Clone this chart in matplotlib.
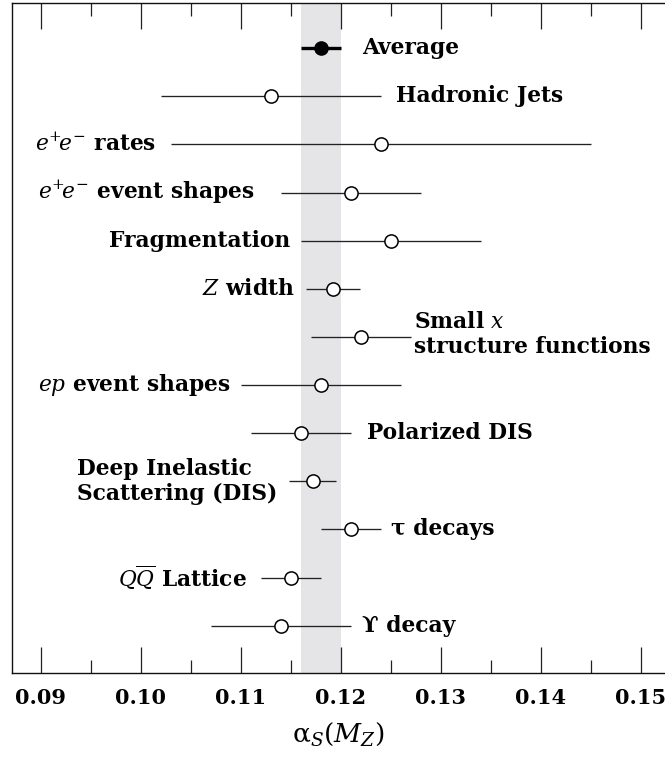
import matplotlib
matplotlib.use("Agg")
import matplotlib.pyplot as plt
from matplotlib.ticker import FixedLocator

plt.rcParams['font.family'] = ['DejaVu Serif', 'DejaVu Sans']
plt.rcParams['mathtext.fontset'] = 'dejavuserif'

# ---- data (top to bottom) ----
labels = [
    "Average",
    "Hadronic Jets",
    r"$e^{+}\!e^{-}$ rates",
    r"$e^{+}\!e^{-}$ event shapes",
    "Fragmentation",
    r"$Z$ width",
    "Small $x$\nstructure functions",
    r"$ep$ event shapes",
    "Polarized DIS",
    "Deep Inelastic\nScattering (DIS)",
    "τ decays",
    r"$Q\overline{Q}$ Lattice",
    "ϒ decay",
]
values = [0.118, 0.113, 0.124, 0.121, 0.125, 0.1192, 0.122, 0.118, 0.116, 0.1172, 0.121, 0.115, 0.114]
err_lo = [0.002, 0.011, 0.021, 0.007, 0.009, 0.0027, 0.005, 0.008, 0.005, 0.0024, 0.003, 0.003, 0.007]
err_hi = [0.002, 0.011, 0.021, 0.007, 0.009, 0.0027, 0.005, 0.008, 0.005, 0.0023, 0.003, 0.003, 0.007]
label_side = ["right", "right", "left", "left", "left", "left", "right",
              "left", "right", "left", "right", "left", "right"]
band = (0.116, 0.120)
major_ticks = [0.09, 0.10, 0.11, 0.12, 0.13, 0.14, 0.15]
minor_ticks = [0.095, 0.105, 0.115, 0.125, 0.135, 0.145]
tick_labels = ["0.09", "0.10", "0.11", "0.12", "0.13", "0.14", "0.15"]

fig = plt.figure(figsize=(6.65, 7.57), dpi=100)
ax = fig.add_axes([12/665, (757-672.7)/757, 1 - 12/665, (672.7-2.5)/757])

n = len(labels)
ys = [n - 1 - i for i in range(n)]

ax.axvspan(band[0], band[1], color='#e5e5e7', zorder=0, lw=0)

line_col = '#222222'
for i, (v, lo, hi, y) in enumerate(zip(values, err_lo, err_hi, ys)):
    if i == 0:
        ax.plot([v - lo, v + hi], [y, y], color='black', lw=2.4, zorder=2, solid_capstyle='butt')
        ax.plot([v], [y], marker='o', ms=9.5, mfc='black', mec='black', zorder=3)
    else:
        ax.plot([v - lo, v + hi], [y, y], color=line_col, lw=0.95, zorder=2, solid_capstyle='butt')
        ax.plot([v], [y], marker='o', ms=9.5, mfc='white', mec='black', mew=1.1, zorder=3)

# label placement gaps (data units)
gaps = [0.0021, 0.0015, 0.0014, 0.0026, 0.0010, 0.0011, 0.0003, 0.0010, 0.0016, None, 0.0010, 0.0014, 0.0011]
fs = 15.7
for i, (lab, v, lo, hi, side, y, g) in enumerate(zip(labels, values, err_lo, err_hi, label_side, ys, gaps)):
    kw = dict(va='center', fontsize=fs, fontweight='semibold', linespacing=1.2, zorder=4)
    if i == 9:
        ax.text(0.0936, y, lab, ha='left', **kw)
    elif side == "right":
        ax.text(v + hi + g, y + (0.05 if "\n" in lab else 0), lab, ha='left', **kw)
    else:
        ax.text(v - lo - g, y, lab, ha='right', **kw)

ax.set_xlim(0.08713, 0.15243)
ax.set_ylim(-0.977, 12.95)
ax.set_yticks([])

ax.xaxis.set_major_locator(FixedLocator(major_ticks))
ax.set_xticklabels(tick_labels)
ax.xaxis.set_minor_locator(FixedLocator(minor_ticks))
ax.tick_params(axis='x', which='major', direction='in', length=18.7, width=0.9,
               top=True, bottom=True, labelsize=15, pad=11, color='#222222')
ax.tick_params(axis='x', which='minor', direction='in', length=9.2, width=0.9,
               top=True, bottom=True, color='#222222')
for lbl in ax.get_xticklabels():
    lbl.set_fontweight('semibold')

ax.spines['right'].set_visible(False)
for s in ('left', 'bottom', 'top'):
    ax.spines[s].set_linewidth(1.0)
    ax.spines[s].set_color('#111111')

ax.set_xlabel('α$_{S}$($M_{Z}$)', fontsize=19, labelpad=9)

fig.savefig("out.png", dpi=100)
